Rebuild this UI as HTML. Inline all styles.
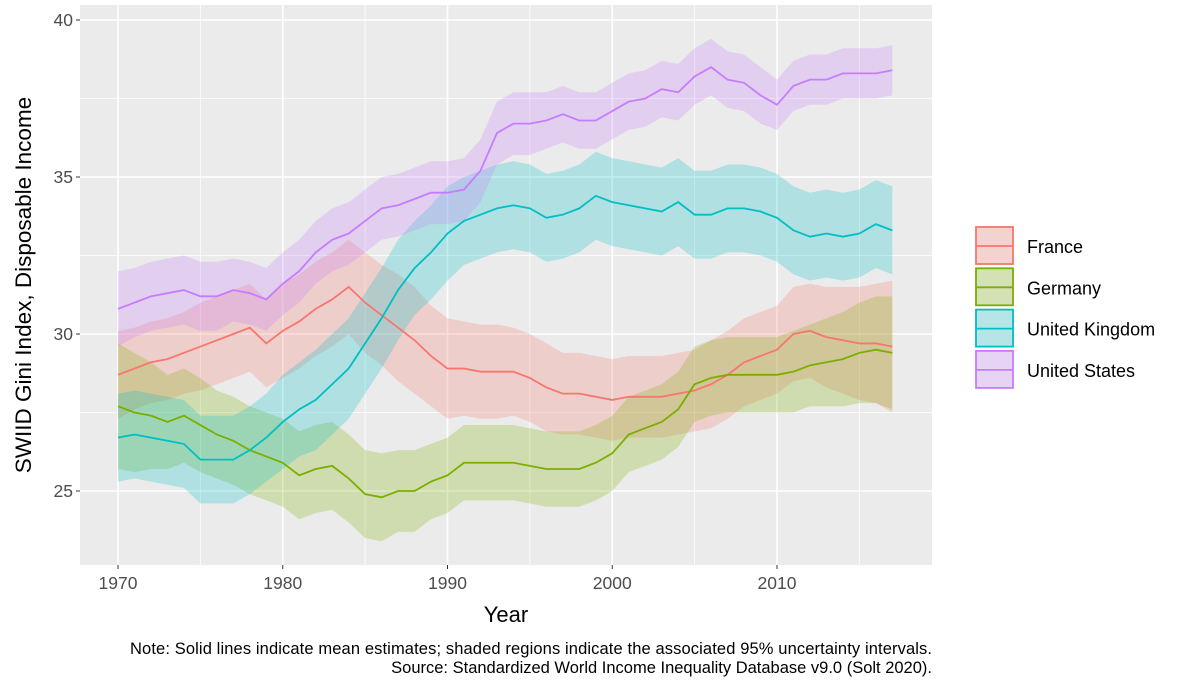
<!DOCTYPE html>
<html><head><meta charset="utf-8"><style>
body{margin:0;background:#fff;font-family:"Liberation Sans",Arial,sans-serif}
svg text{font-family:"Liberation Sans",Arial,sans-serif}
</style></head><body>
<svg id="c" width="1200" height="685"></svg>
<script>
const years=[];for(let y=1970;y<=2017;y++)years.push(y);
const seriesNames=["France","Germany","United Kingdom","United States"];
const franceMean=[28.7,28.9,29.1,29.2,29.4,29.6,29.8,30.0,30.2,29.7,30.1,30.4,30.8,31.1,31.5,31.0,30.6,30.2,29.8,29.3,28.9,28.9,28.8,28.8,28.8,28.6,28.3,28.1,28.1,28.0,27.9,28.0,28.0,28.0,28.1,28.2,28.4,28.7,29.1,29.3,29.5,30.0,30.1,29.9,29.8,29.7,29.7,29.6];
const franceSpread=[1.4,1.3,1.3,1.3,1.3,1.4,1.4,1.4,1.4,1.4,1.5,1.5,1.5,1.5,1.5,1.6,1.6,1.7,1.7,1.6,1.6,1.5,1.5,1.5,1.4,1.4,1.4,1.3,1.3,1.3,1.3,1.3,1.3,1.3,1.3,1.3,1.4,1.4,1.4,1.4,1.4,1.5,1.5,1.6,1.7,1.8,1.9,2.1];
const germanyMean=[27.7,27.5,27.4,27.2,27.4,27.1,26.8,26.6,26.3,26.1,25.9,25.5,25.7,25.8,25.4,24.9,24.8,25.0,25.0,25.3,25.5,25.9,25.9,25.9,25.9,25.8,25.7,25.7,25.7,25.9,26.2,26.8,27.0,27.2,27.6,28.4,28.6,28.7,28.7,28.7,28.7,28.8,29.0,29.1,29.2,29.4,29.5,29.4];
const germanySpread=[2.0,1.9,1.7,1.5,1.5,1.5,1.4,1.4,1.4,1.4,1.4,1.4,1.4,1.4,1.4,1.4,1.4,1.3,1.3,1.2,1.2,1.2,1.2,1.2,1.2,1.2,1.2,1.2,1.2,1.2,1.2,1.2,1.2,1.2,1.2,1.2,1.2,1.2,1.2,1.2,1.2,1.3,1.3,1.4,1.5,1.6,1.7,1.8];
const ukMean=[26.7,26.8,26.7,26.6,26.5,26.0,26.0,26.0,26.3,26.7,27.2,27.6,27.9,28.4,28.9,29.7,30.5,31.4,32.1,32.6,33.2,33.6,33.8,34.0,34.1,34.0,33.7,33.8,34.0,34.4,34.2,34.1,34.0,33.9,34.2,33.8,33.8,34.0,34.0,33.9,33.7,33.3,33.1,33.2,33.1,33.2,33.5,33.3];
const ukSpread=[1.4,1.4,1.4,1.4,1.4,1.4,1.4,1.4,1.4,1.4,1.5,1.5,1.6,1.6,1.6,1.6,1.6,1.6,1.5,1.5,1.5,1.4,1.4,1.4,1.4,1.4,1.4,1.4,1.4,1.4,1.4,1.4,1.4,1.4,1.4,1.4,1.4,1.4,1.4,1.4,1.4,1.4,1.4,1.4,1.4,1.4,1.4,1.4];
const usMean=[30.8,31.0,31.2,31.3,31.4,31.2,31.2,31.4,31.3,31.1,31.6,32.0,32.6,33.0,33.2,33.6,34.0,34.1,34.3,34.5,34.5,34.6,35.2,36.4,36.7,36.7,36.8,37.0,36.8,36.8,37.1,37.4,37.5,37.8,37.7,38.2,38.5,38.1,38.0,37.6,37.3,37.9,38.1,38.1,38.3,38.3,38.3,38.4];
const usSpread=[1.2,1.1,1.1,1.1,1.1,1.1,1.1,1.0,1.0,1.0,1.0,1.0,1.0,1.0,1.0,1.0,1.0,1.0,1.0,1.0,1.0,1.0,1.0,1.0,1.0,1.0,0.9,0.9,0.9,0.9,0.9,0.9,0.9,0.9,0.9,0.9,0.9,0.9,0.9,0.9,0.8,0.8,0.8,0.8,0.8,0.8,0.8,0.8];
const yTicks=[25,30,35,40];
const xTicks=[1970,1980,1990,2000,2010];
const colors=["#F8766D","#7CAE00","#00BFC4","#C77CFF"];
const means=[franceMean,germanyMean,ukMean,usMean];
const spreads=[franceSpread,germanySpread,ukSpread,usSpread];
const slugs=["france","germany","united-kingdom","united-states"];

const NS="http://www.w3.org/2000/svg";
const svg=document.getElementById("c");
function mk(t,a,p){const e=document.createElementNS(NS,t);for(const k in a)e.setAttribute(k,a[k]);(p||svg).appendChild(e);return e;}
const L=80,R=932,T=5,B=565;
const x=v=>118+(v-1970)*(777-118)/40;
const y=v=>491-(v-25)*(491-20)/15;

const panel=mk("rect",{x:L,y:T,width:R-L,height:B-T,fill:"#EBEBEB"});


for(let v=22.5;v<=40;v+=5){mk("line",{x1:L,x2:R,y1:y(v),y2:y(v),stroke:"#fff","stroke-width":0.8});}
for(let v=1975;v<=2015;v+=10){mk("line",{x1:x(v),x2:x(v),y1:T,y2:B,stroke:"#fff","stroke-width":0.8});}
yTicks.forEach(v=>{const g=mk("line",{x1:L,x2:R,y1:y(v),y2:y(v),stroke:"#fff","stroke-width":1.6});


mk("line",{x1:L-4,x2:L,y1:y(v),y2:y(v),stroke:"#333","stroke-width":1});
const t=mk("text",{x:L-7,y:y(v)+6,"text-anchor":"end","font-size":17.5,fill:"#4D4D4D"});t.textContent=v;

});
xTicks.forEach(v=>{mk("line",{x1:x(v),x2:x(v),y1:T,y2:B,stroke:"#fff","stroke-width":1.6});
mk("line",{x1:x(v),x2:x(v),y1:B,y2:B+4,stroke:"#333","stroke-width":1});
const t=mk("text",{x:x(v),y:B+24,"text-anchor":"middle","font-size":17.5,fill:"#4D4D4D"});t.textContent=v;

});

means.forEach((m,i)=>{
 const s=spreads[i];
 let top=years.map((yr,j)=>x(yr)+","+y(m[j]+s[j]));
 let bot=years.map((yr,j)=>x(yr)+","+y(m[j]-s[j])).reverse();
 const rib=mk("polygon",{points:top.concat(bot).join(" "),fill:colors[i],"fill-opacity":0.25});
 
 
});
means.forEach((m,i)=>{
 const ln=mk("polyline",{points:years.map((yr,j)=>x(yr)+","+y(m[j])).join(" "),fill:"none",stroke:colors[i],"stroke-width":1.8});
 
 
});

let t=mk("text",{x:(L+R)/2,y:622,"text-anchor":"middle","font-size":22,fill:"#000"});t.textContent="Year";


t=mk("text",{x:0,y:0,"text-anchor":"middle","font-size":22.5,fill:"#000",transform:"translate(31,285) rotate(-90)"});t.textContent="SWIID Gini Index, Disposable Income";



seriesNames.forEach((n,i)=>{
 const cy=246+i*41.3;
 const g=mk("g",{});
 
 
 mk("rect",{x:975,y:cy-20,width:39,height:39,fill:"#F2F2F2"},g);
 mk("rect",{x:976,y:cy-19,width:37,height:37,fill:colors[i],"fill-opacity":0.25,stroke:colors[i],"stroke-width":1.8},g);
 mk("line",{x1:976,x2:1013,y1:cy,y2:cy,stroke:colors[i],"stroke-width":1.8},g);
 const tt=mk("text",{x:1027,y:cy+7,"font-size":18,fill:"#000"},g);tt.textContent=n;
});

t=mk("text",{x:932,y:654,"text-anchor":"end","font-size":16.5,fill:"#000","textLength":802});t.textContent="Note: Solid lines indicate mean estimates; shaded regions indicate the associated 95% uncertainty intervals.";


t=mk("text",{x:932,y:673,"text-anchor":"end","font-size":16.5,fill:"#000"});t.textContent="Source: Standardized World Income Inequality Database v9.0 (Solt 2020).";


</script>
</body></html>
